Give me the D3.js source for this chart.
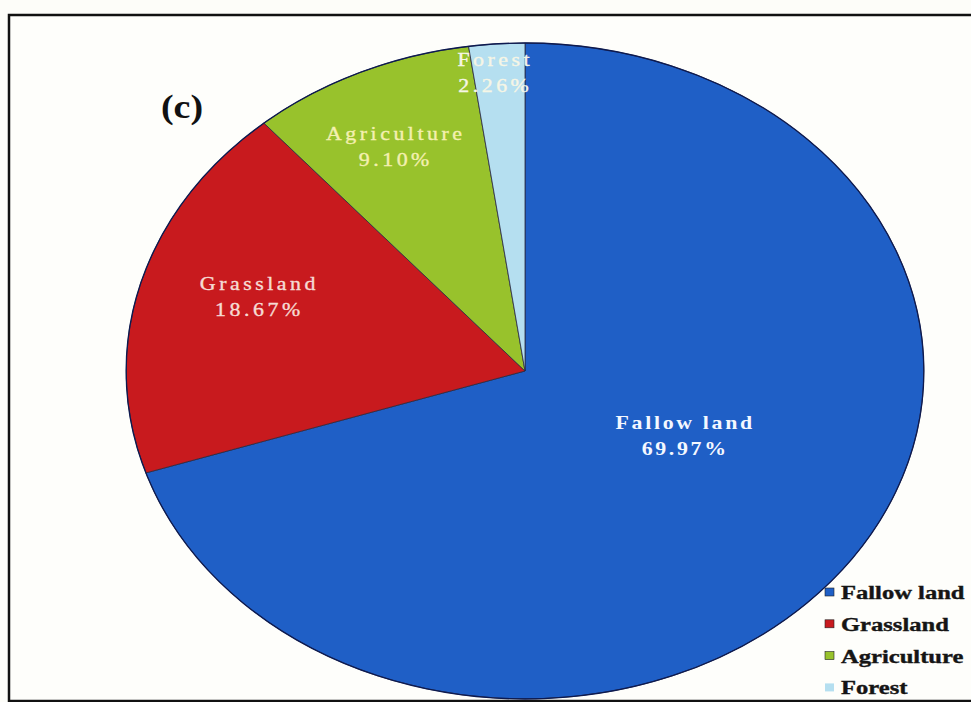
<!DOCTYPE html>
<html><head><meta charset="utf-8">
<script src="https://cdn.jsdelivr.net/npm/d3@7/dist/d3.min.js"></script>
<style>
html,body{margin:0;padding:0;background:#fdfdf9;}
svg{display:block;}
</style></head>
<body>
<svg id="chart" width="971" height="702"></svg>
<script>
// ---- data ----
const categories = ["Fallow land", "Grassland", "Agriculture", "Forest"];
const shares = [69.97, 18.67, 9.10, 2.26];
const valueLabels = ["69.97%", "18.67%", "9.10%", "2.26%"];
const colors = ["#1f5fc6", "#c81a1e", "#98c22c", "#b5dff0"];
const labelColors = ["#f4f8ff", "#f6dcd4", "#f4f0b0", "#f6f6e6"];
const panelLabel = "(c)";

// ---- layout ----
const W = 971, H = 702;
const cx = 525, cy = 371, ry = 328, sx = 1.216; // elliptical (stretched) pie
const labelR = [0.444, 0.706, 0.764, 0.92];      // label radius fraction
const labelShift = [-0.187, 0.068, -0.010, -0.01]; // label angle shift (rad)

const svg = d3.select("#chart");

// frame
svg.append("rect").attr("x", 9).attr("y", 15).attr("width", 990).attr("height", 686)
  .attr("fill", "#fefefb").attr("stroke", "#111").attr("stroke-width", 2.5);

const pie = d3.pie().sort(null).value(d => d.v);
const data = categories.map((c, i) => ({c, v: shares[i], i}));
const arcs = pie(data);
const arc = d3.arc().innerRadius(0).outerRadius(ry);

const g = svg.append("g").attr("transform", `translate(${cx},${cy}) scale(${sx},1)`);
g.selectAll("path").data(arcs).join("path")
  .attr("d", arc)
  .attr("fill", d => colors[d.data.i])
  .attr("stroke", "#2a2a40")
  .attr("stroke-width", 0.8)
  .attr("vector-effect", "non-scaling-stroke");
// outer outline
g.append("ellipse").attr("rx", ry).attr("ry", ry).attr("fill", "none")
  .attr("stroke", "#0d1a50").attr("stroke-width", 1.3).attr("vector-effect", "non-scaling-stroke");

// slice labels
const lbl = svg.append("g");
arcs.forEach((d, i) => {
  const a = (d.startAngle + d.endAngle) / 2 + labelShift[i];
  const r = ry * labelR[i];
  const x = cx + Math.sin(a) * r * sx;
  const y = cy - Math.cos(a) * r;
  const t = lbl.append("text")
    .attr("transform", `translate(${x},${y}) scale(${sx},1)`)
    .attr("text-anchor", "middle")
    .attr("font-family", "'Liberation Serif','Times New Roman',serif")
    .attr("font-size", 18)
    .attr("font-weight", i === 0 ? "bold" : "normal")
    .attr("letter-spacing", i === 0 ? 2.2 : 2.9)
    .attr("fill", labelColors[i])
    .attr("stroke", labelColors[i])
    .attr("stroke-width", i === 0 ? 0 : 0.35);
  t.append("tspan").attr("x", 0).attr("dy", -4).text(categories[i]);
  t.append("tspan").attr("x", 0).attr("dy", 26).text(valueLabels[i]);
});

// panel label
svg.append("text").attr("transform", `translate(182,118) scale(1.15,1)`)
  .attr("text-anchor", "middle")
  .attr("font-family", "'Liberation Serif','Times New Roman',serif")
  .attr("font-size", 33).attr("font-weight", "bold").attr("fill", "#111")
  .text(panelLabel);

// legend
const leg = svg.append("g");
categories.forEach((c, i) => {
  const y = 592 + i * 31.8;
  leg.append("rect").attr("x", 825).attr("y", y - 4).attr("width", 9).attr("height", 8)
    .attr("fill", colors[i]).attr("stroke", i === 3 ? "none" : "#222").attr("stroke-width", 0.6);
  leg.append("text").attr("transform", `translate(841,${y + 7}) scale(1.26,1)`)
    .attr("font-family", "'Liberation Serif','Times New Roman',serif")
    .attr("font-size", 19.5).attr("font-weight", "bold").attr("fill", "#151515")
    .attr("stroke", "#151515").attr("stroke-width", 0.4)
    .text(c);
});
</script>
</body></html>
